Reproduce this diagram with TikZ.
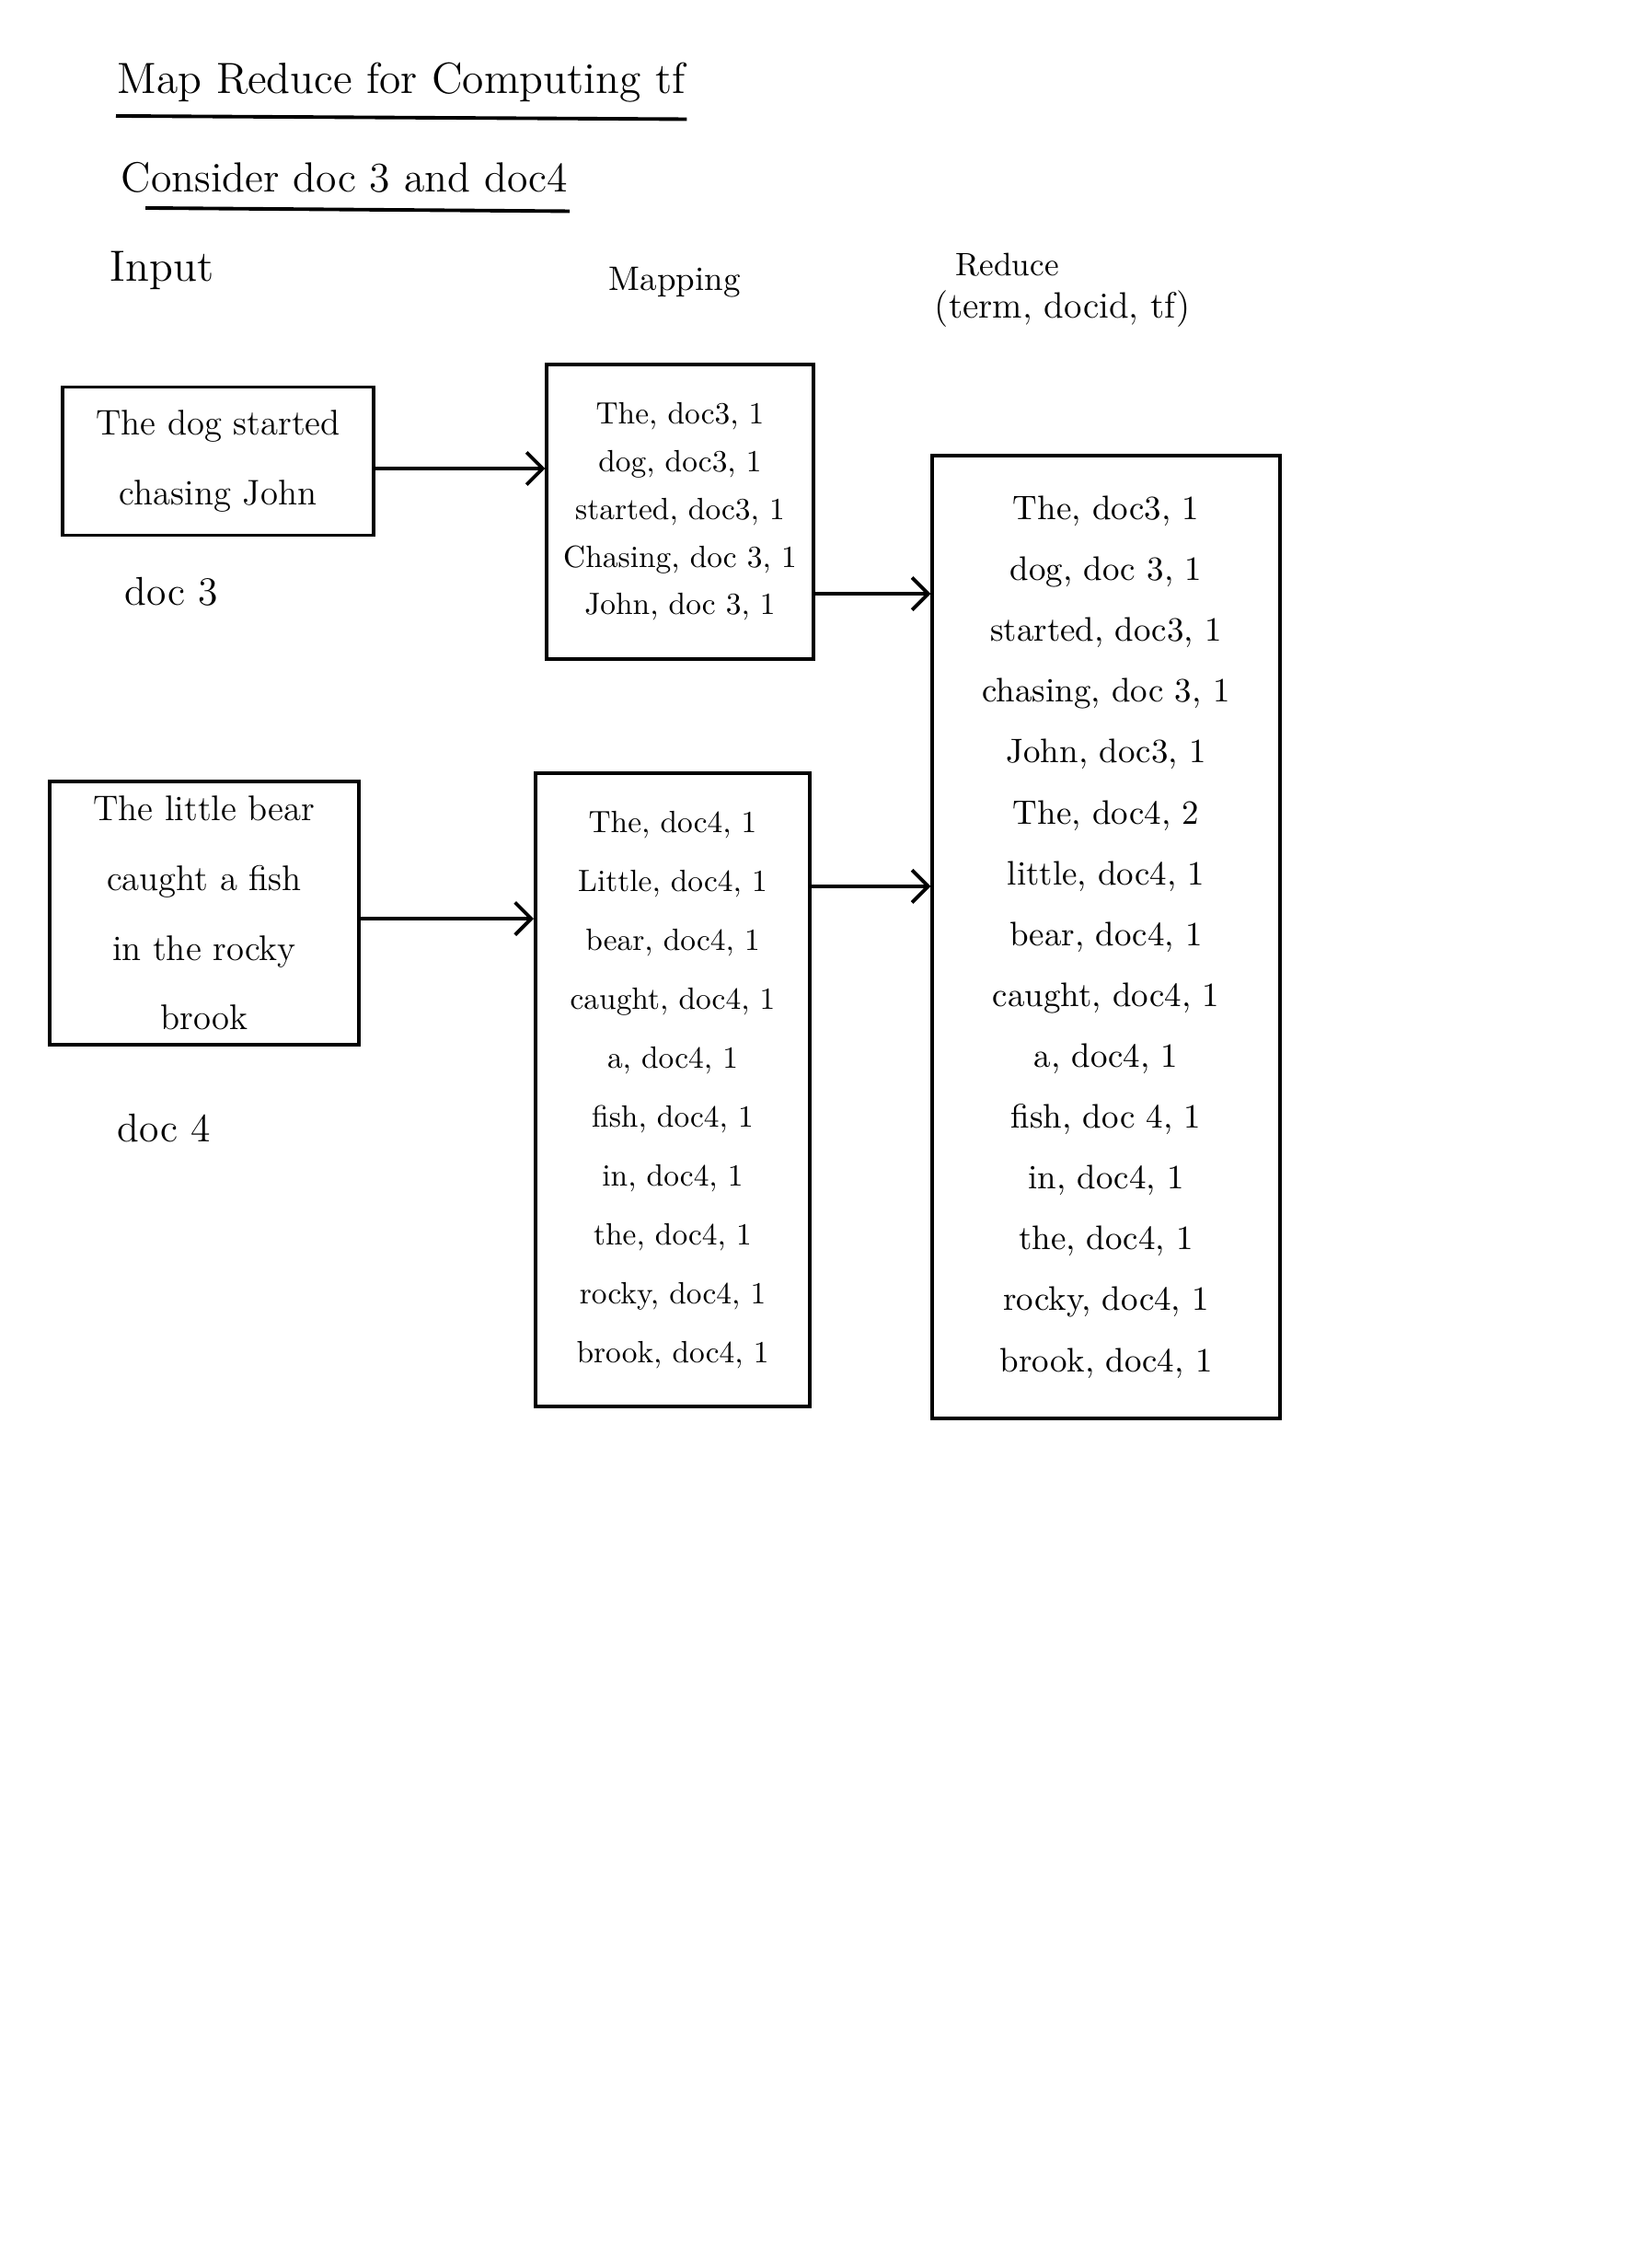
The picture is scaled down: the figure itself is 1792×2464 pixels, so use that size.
\documentclass[tikz,border=0pt]{standalone}
\usetikzlibrary{arrows.meta}
\begin{document}
\begin{tikzpicture}[x=0.01cm, y=-0.01cm, line width=1.1pt,
  txt/.style={inner sep=0pt},
  docbox/.style={draw, align=center, inner sep=0pt, font=\fontsize{11pt}{21.5pt}\selectfont},
  listbox/.style={draw, align=center, inner sep=0pt},
  >={Straight Barb[length=5pt,width=10pt]}]
\useasboundingbox (0,0) rectangle (1792,2464);

% headings
\node[txt, anchor=base west, font=\fontsize{13.5pt}{16pt}\selectfont] (title) at (126,102) {Map Reduce for Computing tf};
\draw ([yshift=-3.5pt]title.south west) -- ([yshift=-4.5pt]title.south east);
\node[txt, anchor=base west, font=\fontsize{13pt}{16pt}\selectfont] (consider) at (130,209) {Consider doc 3 and doc4};
\draw ([xshift=8pt,yshift=-4pt]consider.south west) -- ([yshift=-5pt]consider.south east);
\node[txt, anchor=base west, font=\fontsize{13.5pt}{16pt}\selectfont] (input) at (118,306) {Input};
\node[txt, anchor=base west, font=\fontsize{10.5pt}{14pt}\selectfont] (mapping) at (660,316) {Mapping};
\node[txt, anchor=base west, font=\fontsize{10pt}{14pt}\selectfont] (reduce) at (1037,300) {Reduce};
\node[txt, anchor=base west, font=\fontsize{11.3pt}{14pt}\selectfont] (fields) at (1014,346) {(term, docid, tf)};

% input documents
\node[docbox, minimum width=3.38cm, minimum height=1.61cm] (docA) at (237,501) {The dog started\\chasing John};
\node[txt, anchor=base west, font=\fontsize{12.4pt}{14pt}\selectfont] (docAname) at (134,657) {doc 3};
\node[docbox, minimum width=3.35cm, minimum height=2.86cm] (docB) at (222,992) {The little bear\\caught a fish\\in the rocky\\brook};
\node[txt, anchor=base west, font=\fontsize{12.4pt}{14pt}\selectfont] (docBname) at (126,1240) {doc 4};

% mapping
\node[listbox, minimum width=2.89cm, minimum height=3.19cm, font=\fontsize{9.5pt}{14.7pt}\selectfont] (mapA) at (739,556)
  {The, doc3, 1\\dog, doc3, 1\\started, doc3, 1\\Chasing, doc 3, 1\\John, doc 3, 1};
\node[listbox, minimum width=2.98cm, minimum height=6.87cm, font=\fontsize{9.5pt}{18.2pt}\selectfont] (mapB) at (731,1184)
  {The, doc4, 1\\Little, doc4, 1\\bear, doc4, 1\\caught, doc4, 1\\a, doc4, 1\\fish, doc4, 1\\in, doc4, 1\\the, doc4, 1\\rocky, doc4, 1\\brook, doc4, 1};

% reduce
\node[listbox, minimum width=3.77cm, minimum height=10.46cm, font=\fontsize{10.5pt}{18.8pt}\selectfont] (red) at (1202,1018)
  {The, doc3, 1\\dog, doc 3, 1\\started, doc3, 1\\chasing, doc 3, 1\\John, doc3, 1\\The, doc4, 2\\little, doc4, 1\\bear, doc4, 1\\caught, doc4, 1\\a, doc4, 1\\fish, doc 4, 1\\in, doc4, 1\\the, doc4, 1\\rocky, doc4, 1\\brook, doc4, 1};

% arrows
\draw[->] ([yshift=-0.08cm]docA.east) -- ([yshift=-0.08cm]docA.east -| mapA.west);
\draw[->] ([yshift=-0.89cm]mapA.east) -- ([yshift=-0.89cm]mapA.east -| red.west);
\draw[->] ([yshift=-0.06cm]docB.east) -- ([yshift=-0.06cm]docB.east -| mapB.west);
\draw[->] ([yshift=2.21cm]mapB.east) -- ([yshift=2.21cm]mapB.east -| red.west);
\end{tikzpicture}
\end{document}
